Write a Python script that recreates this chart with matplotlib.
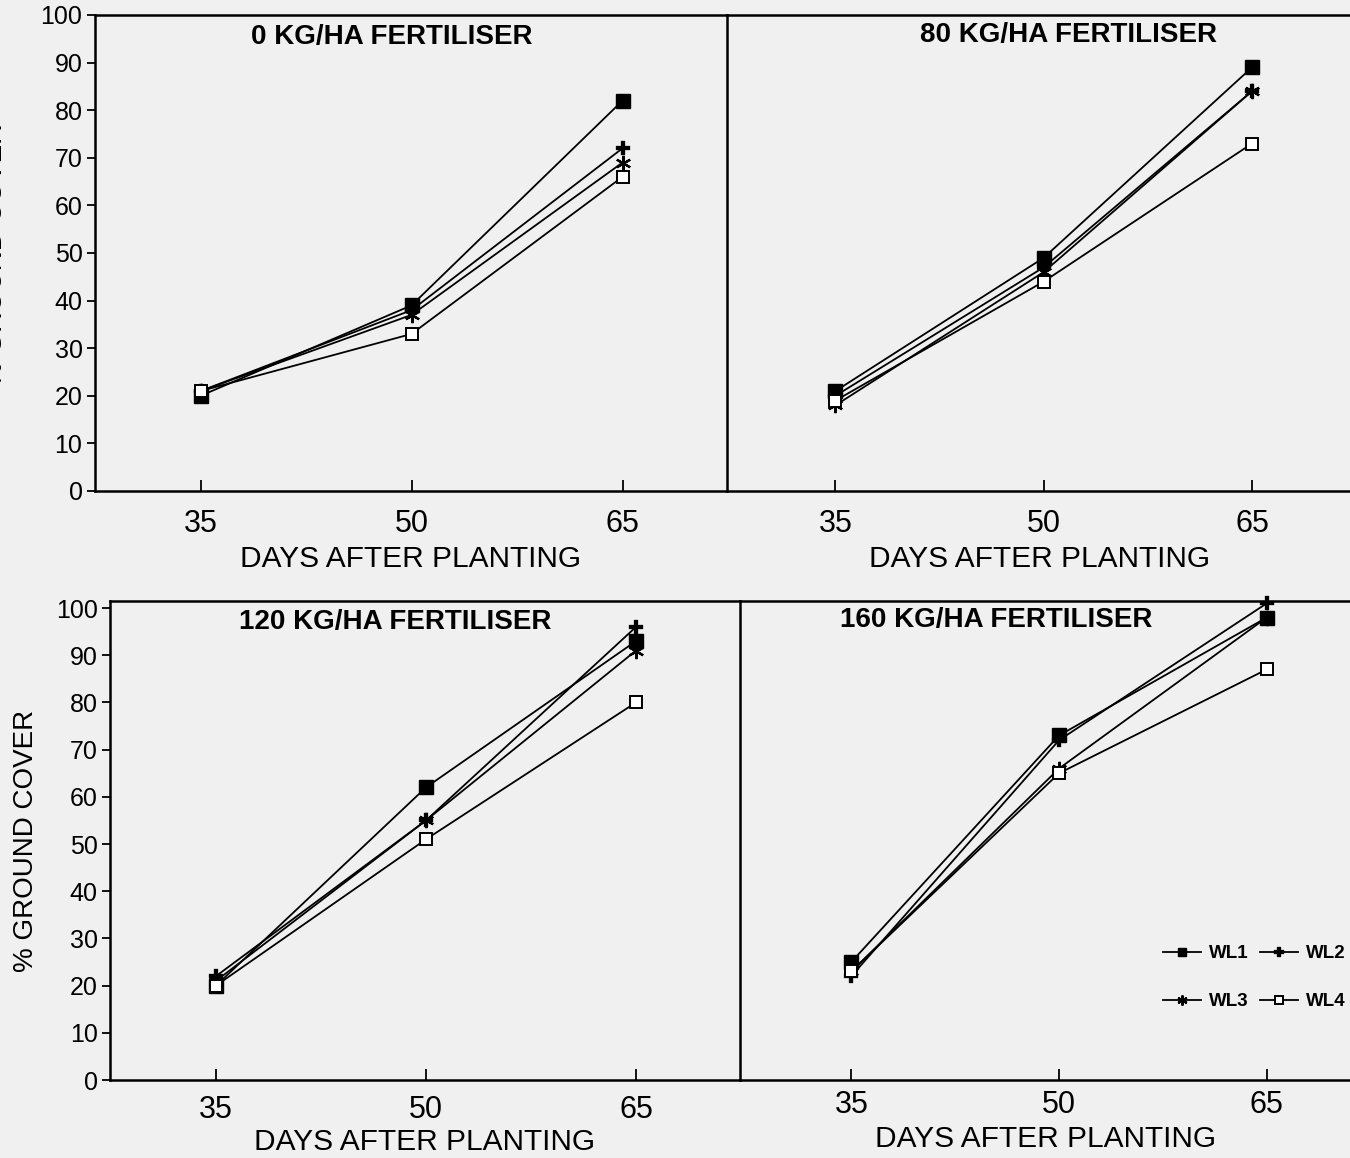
import matplotlib
matplotlib.use("Agg")
import matplotlib.pyplot as plt
from matplotlib.lines import Line2D

plt.rcParams['font.family'] = ['Liberation Sans', 'DejaVu Sans']

# ---- data ----
days = [35, 50, 65]
day_ticks = ["35", "50", "65"]
series_names = ["WL1", "WL2", "WL3", "WL4"]
panel_titles = ["0 KG/HA FERTILISER", "80 KG/HA FERTILISER",
                "120 KG/HA FERTILISER", "160 KG/HA FERTILISER"]

f0_wl1 = [20, 39, 82]
f0_wl2 = [21, 38, 72]
f0_wl3 = [21, 37, 69]
f0_wl4 = [21, 33, 66]

f80_wl1 = [21, 49, 89]
f80_wl2 = [20, 47, 84]
f80_wl3 = [18, 46, 84]
f80_wl4 = [19, 44, 73]

f120_wl1 = [20, 62, 93]
f120_wl2 = [22, 55, 96]
f120_wl3 = [21, 55, 91]
f120_wl4 = [20, 51, 80]

f160_wl1 = [25, 73, 98]
f160_wl2 = [22, 72, 101]
f160_wl3 = [23, 66, 98]
f160_wl4 = [23, 65, 87]

y_ticks = [0, 10, 20, 30, 40, 50, 60, 70, 80, 90, 100]
y_label = "% GROUND COVER"
x_label = "DAYS AFTER PLANTING"

panels = [
    [f0_wl1, f0_wl2, f0_wl3, f0_wl4],
    [f80_wl1, f80_wl2, f80_wl3, f80_wl4],
    [f120_wl1, f120_wl2, f120_wl3, f120_wl4],
    [f160_wl1, f160_wl2, f160_wl3, f160_wl4],
]

# ---- layout (pixel based) ----
W, H = 1350, 1158
BG = '#f0f0f0'
fig = plt.figure(figsize=(W / 100, H / 100), dpi=100, facecolor=BG)


def add_axes_px(x0, x1, ytop, ybot):
    return fig.add_axes([x0 / W, 1 - ybot / H, (x1 - x0) / W, (ybot - ytop) / H])


ax_tl = add_axes_px(95, 727, 15, 491)
ax_tr = add_axes_px(727, 1352, 15, 491)
ax_bl = add_axes_px(110, 740, 601, 1080)
ax_br = add_axes_px(740, 1352, 601, 1080)
axes = [ax_tl, ax_tr, ax_bl, ax_br]

xlims = [(27.49, 72.43), (27.19, 72.2), (27.43, 72.43), (26.96, 71.16)]
ylims = [(0, 100), (0, 100), (0, 101.5), (0, 101.5)]
title_pos = [(0.47, 0.954), (0.547, 0.958), (0.452, 0.956), (0.418, 0.96)]
tick_pads = [13, 13, 11, 7]
label_pads = [4, 4, 2, 4]

styles = [
    dict(marker='s', markersize=9.5, markerfacecolor='black', markeredgecolor='black'),
    dict(marker='P', markersize=10, markerfacecolor='black', markeredgecolor='black', markeredgewidth=0.2),
    dict(marker=(6, 2, 0), markersize=11, markerfacecolor='black', markeredgecolor='black', markeredgewidth=1.6),
    dict(marker='s', markersize=8.5, markerfacecolor='white', markeredgecolor='black', markeredgewidth=1.4),
]

for i, ax in enumerate(axes):
    ax.set_facecolor('none')
    for vals, nm, st in zip(panels[i], series_names, styles):
        ax.plot(days, vals, color='black', linewidth=1.3, label=nm, clip_on=False, **st)
    ax.set_xlim(*xlims[i])
    ax.set_ylim(*ylims[i])
    ax.set_xticks(days)
    ax.set_xticklabels(day_ticks)
    ax.tick_params(axis='x', direction='in', length=8, width=1.3,
                   labelsize=22, pad=tick_pads[i])
    ax.set_xlabel(x_label, fontsize=21.5, labelpad=label_pads[i])
    for s in ax.spines.values():
        s.set_linewidth(1.8)
        s.set_color('black')
    ax.text(title_pos[i][0], title_pos[i][1], panel_titles[i], transform=ax.transAxes,
            ha='center', va='center', fontsize=20, fontweight='bold')
    if i in (0, 2):
        ax.set_yticks(y_ticks)
        ax.tick_params(axis='y', direction='out', length=6, width=1.3, labelsize=18, pad=3)
    else:
        ax.set_yticks([])
        ax.spines['left'].set_visible(False)
        ax.spines['right'].set_visible(False)

ax_bl.set_ylabel(y_label, fontsize=20, labelpad=12)
# partially cut-off label at left edge of the top-left panel (as in the scan)
fig.text(-0.004, 1 - 255 / H, y_label, rotation=90, ha='center', va='center', fontsize=20)

handles = [Line2D([0], [0], color='black', linewidth=1.3,
                  **dict(st, markersize=st['markersize'] * 0.65)) for st in styles]
order = [0, 2, 1, 3]  # row 1: WL1 WL2, row 2: WL3 WL4
fig.legend([handles[k] for k in order], [series_names[k] for k in order],
           loc='upper left', bbox_to_anchor=(1152 / W, 1 - 934 / H),
           ncol=2, frameon=False, handlelength=2.0, handletextpad=0.45, columnspacing=0.6,
           labelspacing=1.65, borderaxespad=0.2, prop=dict(size=13.5, weight='bold'))

fig.savefig('out.png', dpi=100, facecolor=BG)
